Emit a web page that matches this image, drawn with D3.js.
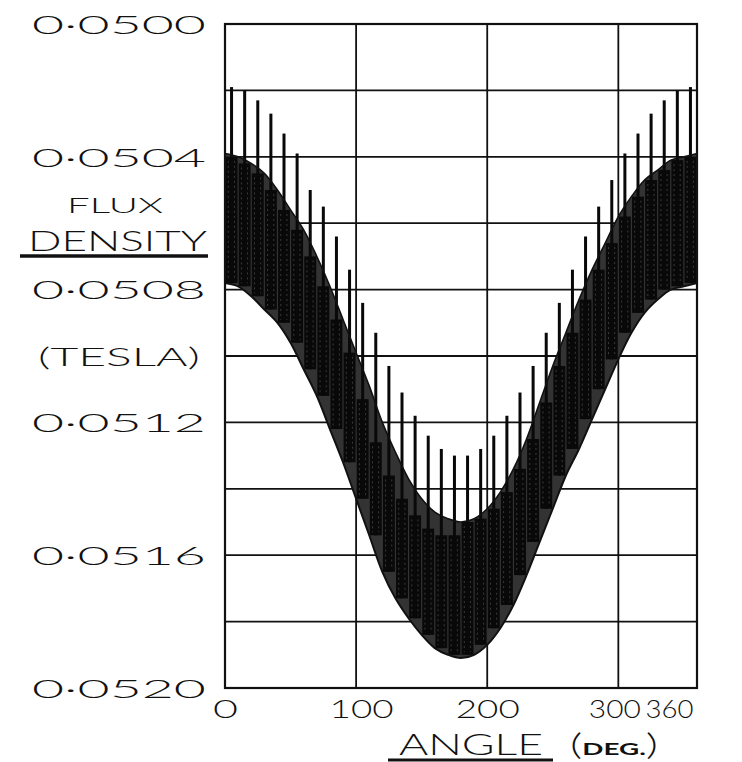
<!DOCTYPE html>
<html>
<head>
<meta charset="utf-8">
<script src="https://cdn.jsdelivr.net/npm/d3@7"></script>
<style>
  body { margin: 0; background: #fff; }
  text { font-family: Lato, "Noto Sans", "DejaVu Sans", sans-serif; font-weight: 300; fill: #111; }
</style>
</head>
<body>
<div id="chart"></div>
<script>
// envelope curves, read every 10 degrees
const envAngles = [0,10,20,30,40,50,60,70,80,90,100,110,120,130,140,150,160,170,180,
                   190,200,210,220,230,240,250,260,270,280,290,300,310,320,330,340,350,360];
const upperEnv = [0.05039,0.05040,0.05042,0.05045,0.05050,0.05056,0.05062,0.05070,0.05079,0.05089,
                  0.05099,0.05109,0.05120,0.05129,0.05137,0.05143,0.05147,0.05149,0.05150,0.05149,
                  0.05146,0.05141,0.05134,0.05125,0.05114,0.05103,0.05093,0.05083,0.05074,0.05066,
                  0.05058,0.05052,0.05047,0.05044,0.05041,0.05040,0.05039];
const lowerEnv = [0.05078,0.05079,0.05082,0.05086,0.05090,0.05096,0.05104,0.05112,0.05122,0.05132,
                  0.05143,0.05154,0.05165,0.05173,0.05179,0.05184,0.05188,0.05190,0.05191,0.05190,
                  0.05187,0.05182,0.05175,0.05166,0.05156,0.05146,0.05136,0.05128,0.05119,0.05110,
                  0.05101,0.05093,0.05087,0.05083,0.05080,0.05079,0.05078];

// one slot every 10 degrees: tall spike + dark block
const slotAngles = [5,15,25,35,45,55,65,75,85,95,105,115,125,135,145,155,165,175,
                    185,195,205,215,225,235,245,255,265,275,285,295,305,315,325,335,345,355];
const spikeTop = [0.05019,0.05020,0.05023,0.05027,0.05033,0.05039,0.05050,0.05055,0.05064,0.05074,
                  0.05084,0.05093,0.05103,0.05111,0.05118,0.05124,0.05128,0.05130,0.05130,0.05128,
                  0.05124,0.05118,0.05111,0.05103,0.05093,0.05084,0.05074,0.05064,0.05055,0.05047,
                  0.05039,0.05033,0.05027,0.05023,0.05020,0.05019];
const blockTop = [0.05040,0.05042,0.05045,0.05050,0.05056,0.05062,0.05070,0.05079,0.05089,0.05099,
                  0.05113,0.05126,0.05136,0.05143,0.05148,0.05152,0.05154,0.05154,0.05150,0.05149,
                  0.05146,0.05141,0.05134,0.05125,0.05114,0.05103,0.05093,0.05083,0.05074,0.05066,
                  0.05058,0.05052,0.05047,0.05044,0.05041,0.05040];
const blockBottom = [0.05078,0.05079,0.05082,0.05086,0.05090,0.05096,0.05104,0.05112,0.05122,0.05132,
                     0.05143,0.05154,0.05165,0.05173,0.05179,0.05184,0.05188,0.05190,0.05190,0.05187,
                     0.05182,0.05175,0.05166,0.05156,0.05146,0.05136,0.05128,0.05119,0.05110,0.05101,
                     0.05093,0.05087,0.05083,0.05080,0.05079,0.05078];

const xTicks = [0, 100, 200, 300, 360];
const yGrid = [0.0500,0.0502,0.0504,0.0506,0.0508,0.0510,0.0512,0.0514,0.0516,0.0518,0.0520];
const yLabels = [0.0500, 0.0504, 0.0508, 0.0512, 0.0516, 0.0520];

const width = 742, height = 762;
const svg = d3.select("#chart").append("svg")
    .attr("width", width).attr("height", height)
    .style("background", "#fff");

const x = d3.scaleLinear().domain([0, 360]).range([225, 697]);
const y = d3.scaleLinear().domain([0.0500, 0.0520]).range([24, 688]);

// grid
svg.append("g").selectAll("line.v")
    .data(xTicks).enter().append("line")
    .attr("x1", d => x(d)).attr("x2", d => x(d))
    .attr("y1", y(0.0500)).attr("y2", y(0.0520))
    .attr("stroke", "#111").attr("stroke-width", 1.8);
svg.append("g").selectAll("line.h")
    .data(yGrid).enter().append("line")
    .attr("x1", x(0)).attr("x2", x(360))
    .attr("y1", d => y(d)).attr("y2", d => y(d))
    .attr("stroke", "#111").attr("stroke-width", 1.8);

// band between the envelopes (dense trace)
const env = envAngles.map((a, i) => ({a, u: upperEnv[i], l: lowerEnv[i]}));
const band = d3.area().x(d => x(d.a)).y0(d => y(d.l)).y1(d => y(d.u)).curve(d3.curveCatmullRom);
svg.append("path").datum(env).attr("d", band)
    .attr("fill", "#333");

// slots
const slotW = x(10) - x(0);
const slots = slotAngles.map((a, i) => ({a, spike: spikeTop[i], top: blockTop[i], bot: blockBottom[i]}));
const slotG = svg.append("g");
slotG.selectAll("rect.block")
    .data(slots).enter().append("rect")
    .attr("x", d => x(d.a) - slotW / 2 + 0.6)
    .attr("width", slotW - 1.2)
    .attr("y", d => y(d.top))
    .attr("height", d => y(d.bot) - y(d.top))
    .attr("fill", "#090909");
// scan texture inside blocks
[-0.25, 0.22].forEach(off => {
  slotG.selectAll(null)
    .data(slots).enter().append("line")
    .attr("x1", d => x(d.a) + off * slotW).attr("x2", d => x(d.a) + off * slotW)
    .attr("y1", d => y(d.top) + 4).attr("y2", d => y(d.bot) - 3)
    .attr("stroke", "#fff").attr("stroke-opacity", 0.25)
    .attr("stroke-width", 0.8).attr("stroke-dasharray", "2,3");
});
slotG.selectAll("rect.spike")
    .data(slots).enter().append("rect")
    .attr("x", d => x(d.a) - 1.5)
    .attr("width", 3)
    .attr("y", d => y(d.spike))
    .attr("height", d => y(d.bot) - y(d.spike))
    .attr("fill", "#090909");

// envelopes
const upLine = d3.line().x(d => x(d.a)).y(d => y(d.u)).curve(d3.curveCatmullRom);
const loLine = d3.line().x(d => x(d.a)).y(d => y(d.l)).curve(d3.curveCatmullRom);
svg.append("path").datum(env).attr("d", upLine)
    .attr("fill", "none").attr("stroke", "#111").attr("stroke-width", 1.6);
svg.append("path").datum(env).attr("d", loLine)
    .attr("fill", "none").attr("stroke", "#111").attr("stroke-width", 2);

// frame
svg.append("rect")
    .attr("x", x(0)).attr("y", y(0.0500))
    .attr("width", x(360) - x(0)).attr("height", y(0.0520) - y(0.0500))
    .attr("fill", "none").attr("stroke", "#111").attr("stroke-width", 2.2);

// y axis labels
const yAxis = svg.append("g")
    .attr("transform", "translate(206,0)")
    .call(d3.axisLeft(y).tickValues(yLabels).tickSize(0).tickPadding(0)
      .tickFormat(d => "0·" + d.toFixed(4).slice(2)));
yAxis.select(".domain").remove();
yAxis.selectAll("text")
    .attr("font-family", null)
    .attr("font-size", 26)
    .attr("dy", "0.36em")
    .attr("textLength", 174)
    .attr("lengthAdjust", "spacingAndGlyphs")
    .attr("fill", "#111");

// x axis labels
const xAxis = svg.append("g")
    .attr("transform", `translate(0,${y(0.0520)})`)
    .call(d3.axisBottom(x).tickValues(xTicks).tickSize(0).tickPadding(0)
      .tickFormat(d3.format("d")));
xAxis.select(".domain").remove();
xAxis.selectAll("text")
    .attr("font-family", null)
    .attr("font-size", 26)
    .attr("y", 30).attr("dy", 0)
    .attr("textLength", d => d === 0 ? 25 : 64)
    .attr("lengthAdjust", "spacingAndGlyphs")
    .attr("fill", "#111");
xAxis.selectAll(".tick").filter(d => d === 100).select("text").attr("x", 5);
xAxis.selectAll(".tick").filter(d => d === 300).select("text")
    .attr("text-anchor", "end").attr("x", 22).attr("textLength", 52);
xAxis.selectAll(".tick").filter(d => d === 360).select("text")
    .attr("text-anchor", "end").attr("x", -4).attr("textLength", 48);

// y title
svg.append("text").attr("x", 115).attr("y", 213)
    .attr("text-anchor", "middle").attr("font-size", 21)
    .attr("textLength", 96).attr("lengthAdjust", "spacingAndGlyphs")
    .text("FLUX");
svg.append("text").attr("x", 28).attr("y", 251)
    .attr("font-size", 28)
    .attr("textLength", 179).attr("lengthAdjust", "spacingAndGlyphs")
    .text("DENSITY");
svg.append("line").attr("x1", 20).attr("x2", 208).attr("y1", 256).attr("y2", 256)
    .attr("stroke", "#111").attr("stroke-width", 3.5);
svg.append("text").attr("x", 38).attr("y", 366)
    .attr("font-size", 25)
    .attr("textLength", 162).attr("lengthAdjust", "spacingAndGlyphs")
    .text("(TESLA)");

// x title
svg.append("text").attr("x", 399).attr("y", 755)
    .attr("font-size", 30)
    .attr("textLength", 144).attr("lengthAdjust", "spacingAndGlyphs")
    .text("ANGLE");
svg.append("line").attr("x1", 388).attr("x2", 553).attr("y1", 760).attr("y2", 760)
    .attr("stroke", "#111").attr("stroke-width", 3);
const deg = svg.append("text").attr("x", 570).attr("y", 755)
    .attr("textLength", 88).attr("lengthAdjust", "spacingAndGlyphs");
deg.append("tspan").attr("font-size", 29).text("(");
deg.append("tspan").attr("font-size", 17).attr("font-weight", 700).text("DEG.");
deg.append("tspan").attr("font-size", 29).text(")");
</script>
</body>
</html>
